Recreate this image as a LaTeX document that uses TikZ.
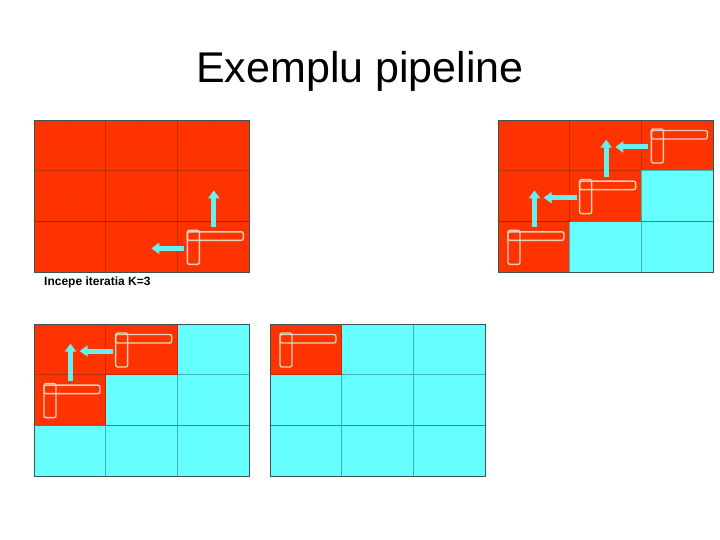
\documentclass[tikz,border=0pt]{standalone}
\usepackage{fontspec}
\setmainfont{Liberation Sans}
\usetikzlibrary{arrows.meta}
\definecolor{cred}{HTML}{FF3300}
\definecolor{credline}{HTML}{C42A08}
\definecolor{credthick}{HTML}{A02408}
\definecolor{ccyan}{HTML}{66FFFF}
\definecolor{ccyanline}{HTML}{3CB4B4}
\definecolor{ccyanthick}{HTML}{2A8C8C}
\definecolor{carrow}{HTML}{66F0F0}
\definecolor{cbeige}{HTML}{E2D2BC}
\definecolor{cborder}{HTML}{3C5454}
\tikzset{
  redcell/.style={fill=cred, draw=credline, line width=0.7pt},
  cyancell/.style={fill=ccyan, draw=ccyanline, line width=0.7pt},
  redthick/.style={draw=credthick, line width=1.5pt},
  cyanthick/.style={draw=ccyanthick, line width=1.5pt},
  panelborder/.style={draw=cborder, line width=0.8pt},
  lbox/.style={draw=cbeige, line width=1.4pt, rounded corners=2pt},
  flow/.style={draw=carrow, line width=5pt, -{Triangle[length=8pt,width=11pt]}},
  faint/.style={draw=credline!18!cred, line width=0.4pt},
}
\newcommand\gridcell[3]{\path[#3] ({#1*71.667},{#2*50.667}) rectangle ++(71.667,50.667);}
\newcommand\rowedge[2]{\draw[#2] ({#1*71.667},{2*50.667}) -- ++(71.667,0);}
\newcommand\Lmark[2]{%
  \begin{scope}[shift={({#1*71.667},{#2*50.667})}]
    \draw[lbox] (10,9) rectangle (22,43);
    \draw[lbox] (10,10.5) rectangle (66,19);
  \end{scope}}
\newcommand\hflow[2]{\draw[flow] ({#1*71.667+7},{#2*50.667+27}) -- ++(-33,0);}
\newcommand\vflow[2]{\draw[flow] ({#1*71.667+36.5},{#2*50.667+6}) -- ++(0,-37);}
\begin{document}
\begin{tikzpicture}[x=1pt,y=-1pt]
\useasboundingbox (0,0) rectangle (720,540);
\fill[white] (0,0) rectangle (720,540);
\node[anchor=base, inner sep=0pt, font=\fontsize{43}{50}\selectfont] (title) at (360,83) {Exemplu pipeline};
% Panel 1
\begin{scope}[shift={(34,120)}]
  \foreach \c in {0,1,2} \foreach \r in {0,1,2} {\gridcell{\c}{\r}{redcell}}
  \foreach \k in {0,1,2} {
    \draw[faint] ({35.83+\k*71.667},0) -- ++(0,152);
    \draw[faint] (0,{25.33+\k*50.667}) -- ++(215,0);
  }
  \foreach \c in {0,1,2} {\rowedge{\c}{redthick}}
  \draw[panelborder] (0,0) rectangle (215,152);
  \Lmark{2}{2}
  \hflow{2}{2}
  \vflow{2}{2}
\end{scope}
\node[anchor=base west, inner sep=0pt, font=\bfseries\fontsize{12}{14}\selectfont] (label) at (44,285.5) {Incepe iteratia K=3};
% Panel 2
\begin{scope}[shift={(498,120)}]
  \foreach \c/\r/\s in {0/0/redcell,1/0/redcell,2/0/redcell,0/1/redcell,1/1/redcell,2/1/cyancell,0/2/redcell,1/2/cyancell,2/2/cyancell} {\gridcell{\c}{\r}{\s}}
  \rowedge{0}{redthick}
  \rowedge{1}{cyanthick}
  \rowedge{2}{cyanthick}
  \draw[panelborder] (0,0) rectangle (215,152);
  \Lmark{2}{0}
  \Lmark{1}{1}
  \Lmark{0}{2}
  \hflow{2}{0}
  \hflow{1}{1}
  \vflow{1}{1}
  \vflow{0}{2}
\end{scope}
% Panel 3
\begin{scope}[shift={(34,324)}]
  \foreach \c/\r/\s in {2/0/cyancell,1/1/cyancell,2/1/cyancell,0/2/cyancell,1/2/cyancell,2/2/cyancell,0/0/redcell,1/0/redcell,0/1/redcell} {\gridcell{\c}{\r}{\s}}
  \foreach \c in {0,1,2} {\rowedge{\c}{cyanthick}}
  \draw[panelborder] (0,0) rectangle (215,152);
  \Lmark{1}{0}
  \Lmark{0}{1}
  \hflow{1}{0}
  \vflow{0}{1}
\end{scope}
% Panel 4
\begin{scope}[shift={(270,324)}]
  \foreach \c/\r/\s in {1/0/cyancell,2/0/cyancell,0/1/cyancell,1/1/cyancell,2/1/cyancell,0/2/cyancell,1/2/cyancell,2/2/cyancell,0/0/redcell} {\gridcell{\c}{\r}{\s}}
  \foreach \c in {0,1,2} {\rowedge{\c}{cyanthick}}
  \draw[panelborder] (0,0) rectangle (215,152);
  \Lmark{0}{0}
\end{scope}
\end{tikzpicture}
\end{document}
